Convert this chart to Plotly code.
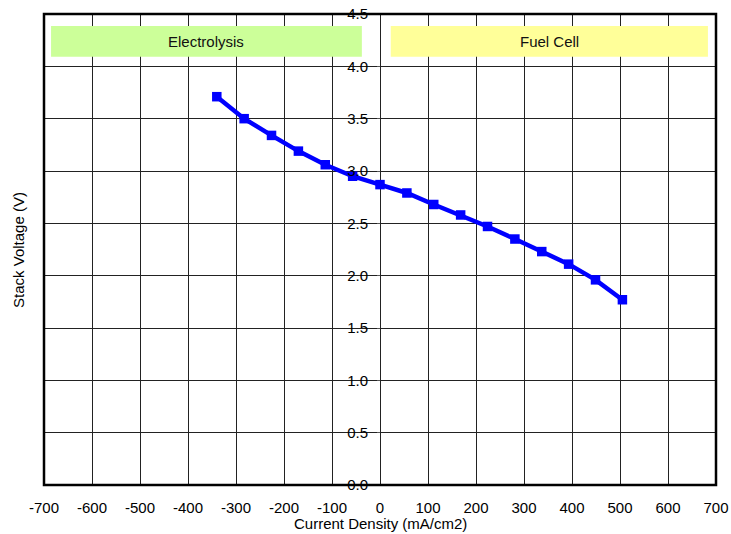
import plotly.graph_objects as go

current_density = [-340, -283, -226, -170, -114, -57, 0, 56, 112, 168, 224, 281, 337, 393, 449, 505]
stack_voltage = [3.71, 3.50, 3.34, 3.19, 3.06, 2.95, 2.87, 2.79, 2.68, 2.58, 2.47, 2.35, 2.23, 2.11, 1.96, 1.77]
x_ticks = list(range(-700, 701, 100))
y_ticks = [0.0, 0.5, 1.0, 1.5, 2.0, 2.5, 3.0, 3.5, 4.0, 4.5]
region_labels = ["Electrolysis", "Fuel Cell"]
x_title = "Current Density (mA/cm2)"
y_title = "Stack Voltage (V)"

font_family = "Liberation Sans, Arial, sans-serif"
fs = 15

fig = go.Figure()
fig.add_trace(go.Scatter(
    x=current_density, y=stack_voltage, mode="lines+markers",
    line=dict(color="#0000FF", width=4.5),
    marker=dict(symbol="square", size=9.5, color="#0000FF"),
    showlegend=False,
))

fig.update_layout(
    width=731, height=534,
    margin=dict(l=44, r=15, t=14, b=49),
    paper_bgcolor="white", plot_bgcolor="white",
    font=dict(family=font_family, size=fs, color="black"),
    xaxis=dict(
        range=[-700, 700], tickvals=x_ticks, ticktext=[str(v) for v in x_ticks],
        showgrid=True, gridcolor="#222", gridwidth=1, zeroline=False,
        showline=False, ticks="", ticklen=0, automargin=False,
        ticklabelstandoff=12,
        tickfont=dict(size=fs),
    ),
    yaxis=dict(
        range=[0, 4.5], tickvals=y_ticks, ticktext=[f"{v:.1f}" for v in y_ticks],
        showgrid=True, gridcolor="#222", gridwidth=1, zeroline=False,
        showline=False, anchor="free", position=0.5, automargin=False,
        ticks="outside", ticklen=3, tickcolor="#555",
        ticklabelstandoff=6,
        tickfont=dict(size=fs),
    ),
)

# Axis titles
fig.add_annotation(text=x_title, xref="paper", yref="paper",
                   x=0.5, y=0, xanchor="center", yanchor="bottom", yshift=-49,
                   showarrow=False, font=dict(size=fs))
fig.add_annotation(text=y_title, xref="paper", yref="paper",
                   x=-0.038, y=0.5, xanchor="center", yanchor="middle",
                   textangle=-90, showarrow=False, font=dict(size=fs))

# Region boxes
boxes = [
    (0.0105, 0.473, "#CCFF99"),
    (0.516, 0.988, "#FFFF99"),
]
for (x0, x1, col), lab in zip(boxes, region_labels):
    fig.add_shape(type="rect", xref="paper", yref="paper", x0=x0, x1=x1,
                  y0=0.909, y1=0.9745, fillcolor=col, line=dict(width=0), layer="above")
    fig.add_annotation(text=lab, xref="paper", yref="paper", x=(x0 + x1) / 2,
                       y=(0.909 + 0.9745) / 2, showarrow=False,
                       xanchor="center", yanchor="middle", font=dict(size=fs, color="#111"))

# Frame
fig.add_shape(type="rect", xref="paper", yref="paper", x0=0, x1=1, y0=0, y1=1,
              line=dict(color="black", width=2.5), layer="above")

fig.write_html("out.html")
